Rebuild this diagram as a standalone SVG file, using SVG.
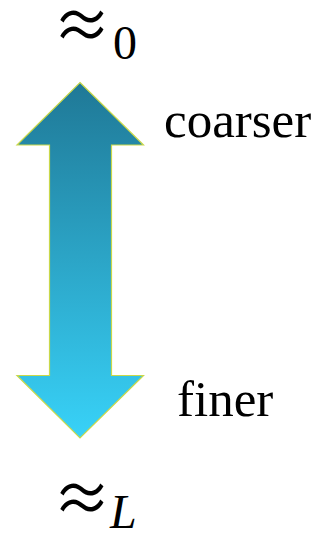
<svg xmlns="http://www.w3.org/2000/svg" width="326" height="534" viewBox="0 0 326 534">
<style>
.lbl{font-family:"Liberation Serif",serif;font-size:51px;fill:#000}
.sym{font-family:"Noto Sans CJK JP","DejaVu Serif",serif;font-size:58px;fill:#000}
.sub{font-family:"Liberation Serif",serif;font-size:48px;fill:#000}
</style>
<defs>
<linearGradient id="g" x1="0" y1="82" x2="0" y2="438" gradientUnits="userSpaceOnUse">
<stop offset="0" stop-color="#1f7896"/>
<stop offset="1" stop-color="#38d2f8"/>
</linearGradient>
</defs>
<g id="arrow">
<polygon points="80,82.5 143.5,145 111.5,145 111.5,375.5 143.5,375.5 80,438 17,375.5 49.5,375.5 49.5,145 17,145" fill="url(#g)" stroke="#c9d84a" stroke-width="1.2"/>
</g>
<g id="top-label">
<text class="sym" transform="translate(53,50) scale(1,1.15)">≈</text>
<text class="sub" x="113" y="59">0</text>
</g>
<g id="bottom-label">
<text class="sym" transform="translate(53,523) scale(1,1.15)">≈</text>
<text class="sub" x="110" y="528" font-style="italic">L</text>
</g>
<g id="coarser"><text class="lbl" x="164" y="137">coarser</text></g>
<g id="finer"><text class="lbl" x="177" y="416">finer</text></g>
</svg>
